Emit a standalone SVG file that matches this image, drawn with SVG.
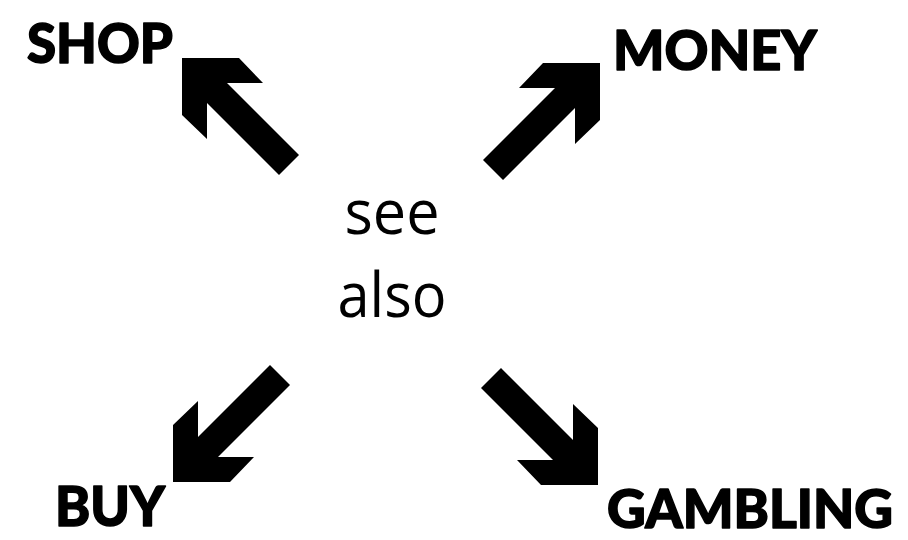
<svg xmlns="http://www.w3.org/2000/svg" width="908" height="540" viewBox="0 0 908 540">
<defs>
<style>
.lbl{font-family:Lato,"DejaVu Sans",sans-serif;font-weight:900;font-size:56px;fill:#000;stroke:#000;stroke-width:1.5px;stroke-linejoin:round}
.ctr{font-family:"Open Sans","Noto Sans",sans-serif;font-size:62px;fill:#000;text-anchor:middle}
.arr{fill:#000}
</style>
<path id="arrowShape" d="M0,0 L57,0 L81,25 L45,25 L117,97 L97,117 L25,45 L25,81 L0,57 Z"/>
</defs>
<rect width="908" height="540" fill="#fff"/>
<g id="center">
<text class="ctr" x="392" y="234" textLength="95" lengthAdjust="spacingAndGlyphs">see</text>
<text class="ctr" x="392" y="317" textLength="109" lengthAdjust="spacingAndGlyphs">also</text>
</g>
<g id="shop"><text class="lbl" x="27" y="63" textLength="146" lengthAdjust="spacingAndGlyphs">SHOP</text></g>
<g id="money"><text class="lbl" x="613" y="70" textLength="204" lengthAdjust="spacingAndGlyphs">MONEY</text></g>
<g id="buy"><text class="lbl" x="55" y="526" textLength="110" lengthAdjust="spacingAndGlyphs">BUY</text></g>
<g id="gambling"><text class="lbl" x="607" y="528" font-size="54" style="font-size:54px" textLength="286" lengthAdjust="spacingAndGlyphs">GAMBLING</text></g>
<g id="connectors" class="arr">
<use href="#arrowShape" transform="translate(182,58)"/>
<use href="#arrowShape" transform="translate(600,63) scale(-1,1)"/>
<use href="#arrowShape" transform="translate(173,482) scale(1,-1)"/>
<use href="#arrowShape" transform="translate(598,485) scale(-1,-1)"/>
</g>
</svg>
